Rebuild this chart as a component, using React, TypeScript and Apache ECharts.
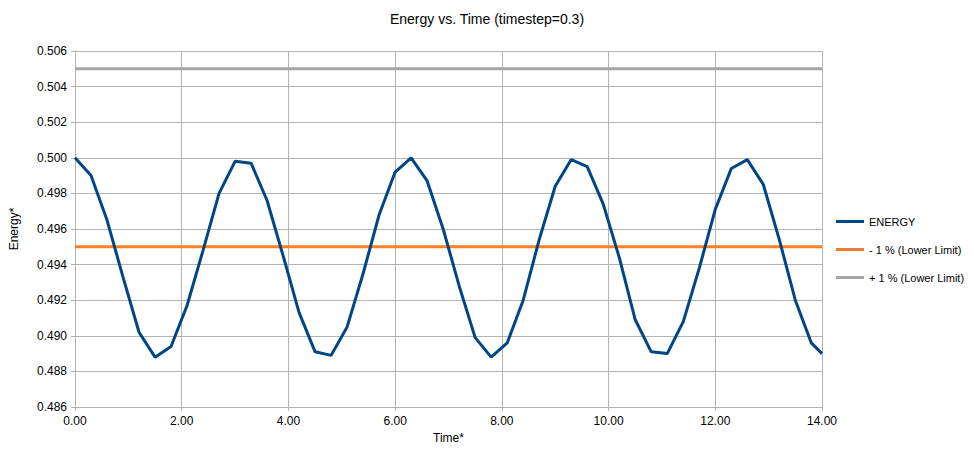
import React, { useEffect, useRef } from "react";
import * as echarts from "echarts";

const times = [0, 0.3, 0.6, 0.9, 1.2, 1.5, 1.8, 2.1, 2.4, 2.7, 3.0, 3.3, 3.6, 3.9, 4.2, 4.5, 4.8, 5.1, 5.4, 5.7, 6.0, 6.3, 6.6, 6.9, 7.2, 7.5, 7.8, 8.1, 8.4, 8.7, 9.0, 9.3, 9.6, 9.9, 10.2, 10.5, 10.8, 11.1, 11.4, 11.7, 12.0, 12.3, 12.6, 12.9, 13.2, 13.5, 13.8, 14.0];
const energy = [0.5, 0.499, 0.4965, 0.4933, 0.4902, 0.4888, 0.4894, 0.4917, 0.4948, 0.498, 0.4998, 0.4997, 0.4976, 0.4945, 0.4913, 0.4891, 0.4889, 0.4905, 0.4935, 0.4968, 0.4992, 0.5, 0.4987, 0.496, 0.4928, 0.4899, 0.4888, 0.4896, 0.492, 0.4954, 0.4984, 0.4999, 0.4995, 0.4974, 0.4944, 0.4909, 0.4891, 0.489, 0.4908, 0.4938, 0.4971, 0.4994, 0.4999, 0.4985, 0.4954, 0.492, 0.4896, 0.489];
const lowerLimit = 0.495;
const upperLimit = 0.505;
const seriesNames = ["ENERGY", "- 1 % (Lower Limit)", "+ 1 % (Lower Limit)"];

export default function App() {
  const ref = useRef<HTMLDivElement>(null);
  useEffect(() => {
    const chart = echarts.init(ref.current!, undefined, { renderer: "svg" });
    const font = "Liberation Sans, Arial, sans-serif";
    chart.setOption({
      animation: false,
      backgroundColor: "#fff",
      textStyle: { fontFamily: font },
      title: { text: "Energy vs. Time (timestep=0.3)", left: "center", top: 7, textStyle: { fontSize: 14, fontWeight: "normal", color: "#000", fontFamily: font } },
      grid: { left: 67, right: 152, top: 51, bottom: 49 },
      legend: {
        orient: "vertical", left: 831, top: 211, itemGap: 17, itemWidth: 28, itemHeight: 3, icon: "rect",
        textStyle: { fontSize: 11, color: "#000", fontFamily: font }, data: seriesNames,
      },
      xAxis: {
        type: "value", min: 0, max: 14, interval: 2, name: "Time*", nameLocation: "middle", nameGap: 24,
        nameTextStyle: { fontSize: 12, color: "#000" },
        axisLine: { lineStyle: { color: "#b3b3b3" } }, axisTick: { show: true, length: 4, lineStyle: { color: "#b3b3b3" } },
        axisLabel: { color: "#000", fontSize: 12, formatter: (v: number) => v.toFixed(2) },
        splitLine: { show: true, lineStyle: { color: "#b3b3b3" } },
      },
      yAxis: {
        type: "value", min: 0.486, max: 0.506, interval: 0.002, name: "Energy*", nameLocation: "middle", nameGap: 55,
        nameTextStyle: { fontSize: 12, color: "#000" },
        axisLine: { show: true, lineStyle: { color: "#b3b3b3" } }, axisTick: { show: true, length: 4, lineStyle: { color: "#b3b3b3" } },
        axisLabel: { color: "#000", fontSize: 12, formatter: (v: number) => v.toFixed(3) },
        splitLine: { show: true, lineStyle: { color: "#b3b3b3" } },
      },
      series: [
        { name: seriesNames[0], type: "line", showSymbol: false, data: times.map((t, i) => [t, energy[i]]), lineStyle: { color: "#004586", width: 3 }, itemStyle: { color: "#004586" }, z: 3 },
        { name: seriesNames[1], type: "line", showSymbol: false, data: times.map((t) => [t, lowerLimit]), lineStyle: { color: "#ff7f27", width: 3 }, itemStyle: { color: "#ed7d31" }, z: 2 },
        { name: seriesNames[2], type: "line", showSymbol: false, data: times.map((t) => [t, upperLimit]), lineStyle: { color: "#a5a5a5", width: 3 }, itemStyle: { color: "#a5a5a5" }, z: 2 },
      ],
    });
    return () => chart.dispose();
  }, []);
  return <div ref={ref} style={{ position: "absolute", left: 0, top: 0, width: 974, height: 456 }} />;
}
